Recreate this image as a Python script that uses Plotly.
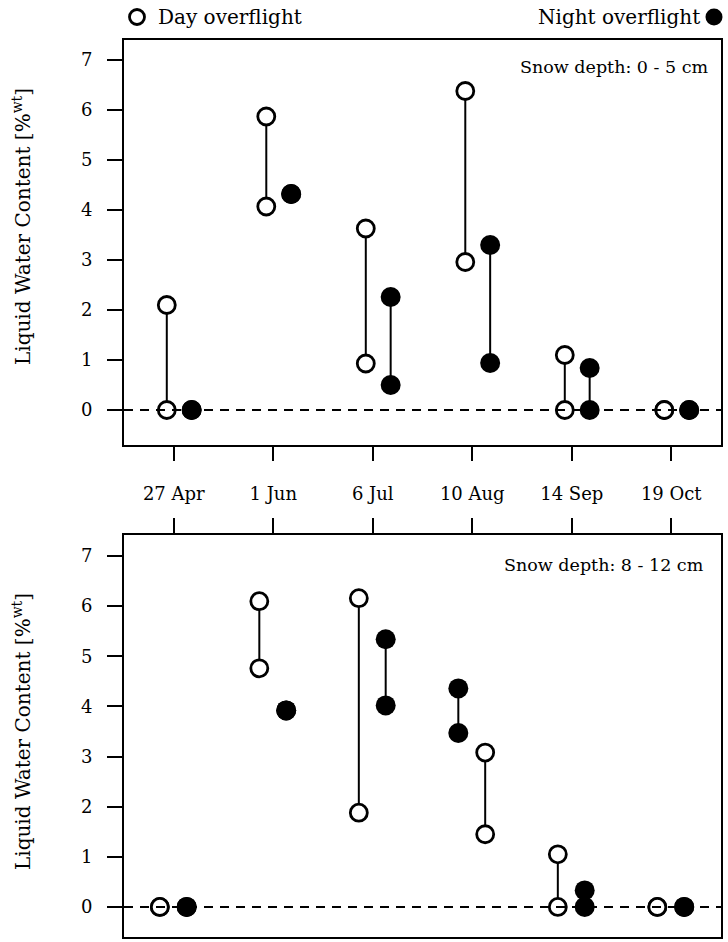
import plotly.graph_objects as go

# ---------------- data ----------------
dates = ["27 Apr", "1 Jun", "6 Jul", "10 Aug", "14 Sep", "19 Oct"]
y_ticks = [0, 1, 2, 3, 4, 5, 6, 7]

# Snow depth 0 - 5 cm
top_day_hi = [2.10, 5.87, 3.63, 6.38, 1.10, 0.0]
top_day_lo = [0.00, 4.07, 0.93, 2.96, 0.00, 0.0]
top_night_hi = [0.00, 4.32, 2.26, 3.30, 0.84, 0.0]
top_night_lo = [0.00, 4.32, 0.50, 0.94, 0.00, 0.0]

# Snow depth 8 - 12 cm
bot_day_hi = [0.00, 6.10, 6.16, 3.08, 1.05, 0.0]
bot_day_lo = [0.00, 4.76, 1.88, 1.45, 0.00, 0.0]
bot_night_hi = [0.00, 3.92, 5.34, 4.36, 0.33, 0.0]
bot_night_lo = [0.00, 3.92, 4.02, 3.47, 0.00, 0.0]

W, H = 728, 942
FONT = "DejaVu Serif"


def px(x):
    return x / W


def py(y):
    return 1 - y / H


fig = go.Figure()

panels = [
    dict(xa="x", ya="y", day=(top_day_hi, top_day_lo), night=(top_night_hi, top_night_lo),
         off_day=-0.07, off_night=0.18, swap=set()),
    dict(xa="x2", ya="y2", day=(bot_day_hi, bot_day_lo), night=(bot_night_hi, bot_night_lo),
         off_day=-0.14, off_night=0.13, swap={"10 Aug"}),
]

for p in panels:
    for kind in ("day", "night"):
        hi, lo = p[kind]
        xs_l, ys_l, xs_m, ys_m = [], [], [], []
        for i, d in enumerate(dates):
            off = p["off_day"] if kind == "day" else p["off_night"]
            if d in p["swap"]:
                off = p["off_night"] if kind == "day" else p["off_day"]
            xv = i + off
            if hi[i] != lo[i]:
                xs_l += [xv, xv, None]
                ys_l += [lo[i], hi[i], None]
            xs_m += [xv, xv]
            ys_m += [hi[i], lo[i]]
        fig.add_trace(go.Scatter(x=xs_l, y=ys_l, mode="lines", xaxis=p["xa"], yaxis=p["ya"],
                                 line=dict(color="black", width=2), showlegend=False,
                                 hoverinfo="skip"))
        if kind == "day":
            marker = dict(symbol="circle", size=17, color="white",
                          line=dict(color="black", width=2.8))
        else:
            marker = dict(symbol="circle", size=20, color="black",
                          line=dict(color="black", width=0))
        fig.add_trace(go.Scatter(x=xs_m, y=ys_m, mode="markers", xaxis=p["xa"], yaxis=p["ya"],
                                 marker=marker, showlegend=False))

    # dashed zero line
    fig.add_shape(type="line", xref=p["xa"], yref=p["ya"], x0=-0.5, x1=5.5, y0=0, y1=0,
                  line=dict(color="black", width=2, dash="9px,7px"), layer="above")

axis_common = dict(showline=True, linecolor="black", linewidth=2, mirror=True,
                   showgrid=False, zeroline=False, ticks="outside", tickcolor="black",
                   tickwidth=2)

TICKFONT = dict(size=18, family=FONT, color="black")

fig.update_layout(
    width=W, height=H, autosize=False,
    margin=dict(l=0, r=0, t=0, b=0),
    paper_bgcolor="white", plot_bgcolor="white",
    font=dict(family=FONT, color="black", size=18),
    xaxis=dict(domain=[px(124), px(721)], range=[-0.5, 5.5], anchor="y",
               tickvals=list(range(len(dates))), ticktext=dates, ticklen=14,
               ticklabelstandoff=17, tickfont=TICKFONT, **axis_common),
    yaxis=dict(domain=[py(445), py(40)], range=[-0.7, 7.4], anchor="x",
               tickvals=y_ticks, ticklen=15, ticklabelstandoff=11,
               tickfont=TICKFONT, **axis_common),
    xaxis2=dict(domain=[px(124), px(721)], range=[-0.5, 5.5], anchor="y2", side="top",
                tickvals=list(range(len(dates))), showticklabels=False, ticklen=15,
                **axis_common),
    yaxis2=dict(domain=[py(937), py(535)], range=[-0.6, 7.42], anchor="x2",
                tickvals=y_ticks, ticklen=15, ticklabelstandoff=11,
                tickfont=TICKFONT, **axis_common),
)

ann = []
ytitle = "Liquid Water Content [%<sup>wt</sup>]"
for yc in (227, 732):
    ann.append(dict(x=px(22), y=py(yc), xref="paper", yref="paper", text=ytitle, textangle=-90,
                    showarrow=False, font=dict(size=20, family=FONT),
                    xanchor="center", yanchor="middle"))
ann.append(dict(x=px(711), y=py(67), xref="paper", yref="paper", text="Snow depth: 0 - 5 cm",
                showarrow=False, font=dict(size=17.5, family=FONT), xanchor="right", yanchor="middle"))
ann.append(dict(x=px(706), y=py(565), xref="paper", yref="paper", text="Snow depth: 8 - 12 cm",
                showarrow=False, font=dict(size=17.5, family=FONT), xanchor="right", yanchor="middle"))
ann.append(dict(x=px(156), y=py(17), xref="paper", yref="paper", text="Day overflight",
                showarrow=False, font=dict(size=20, family=FONT), xanchor="left", yanchor="middle"))
ann.append(dict(x=px(702), y=py(17), xref="paper", yref="paper", text="Night overflight",
                showarrow=False, font=dict(size=20, family=FONT), xanchor="right", yanchor="middle"))
fig.update_layout(annotations=ann)

fig.add_shape(type="circle", xref="paper", yref="paper", xsizemode="pixel", ysizemode="pixel",
              xanchor=px(137), yanchor=py(17), x0=-7.5, x1=7.5, y0=-7.5, y1=7.5,
              line=dict(color="black", width=2.8), fillcolor="white")
fig.add_shape(type="circle", xref="paper", yref="paper", xsizemode="pixel", ysizemode="pixel",
              xanchor=px(714), yanchor=py(17), x0=-8.5, x1=8.5, y0=-8.5, y1=8.5,
              line=dict(color="black", width=0), fillcolor="black")

fig.write_html("out.html", config={"displayModeBar": False},
               post_script="document.body.style.margin='0px';document.body.style.overflow='hidden';")
